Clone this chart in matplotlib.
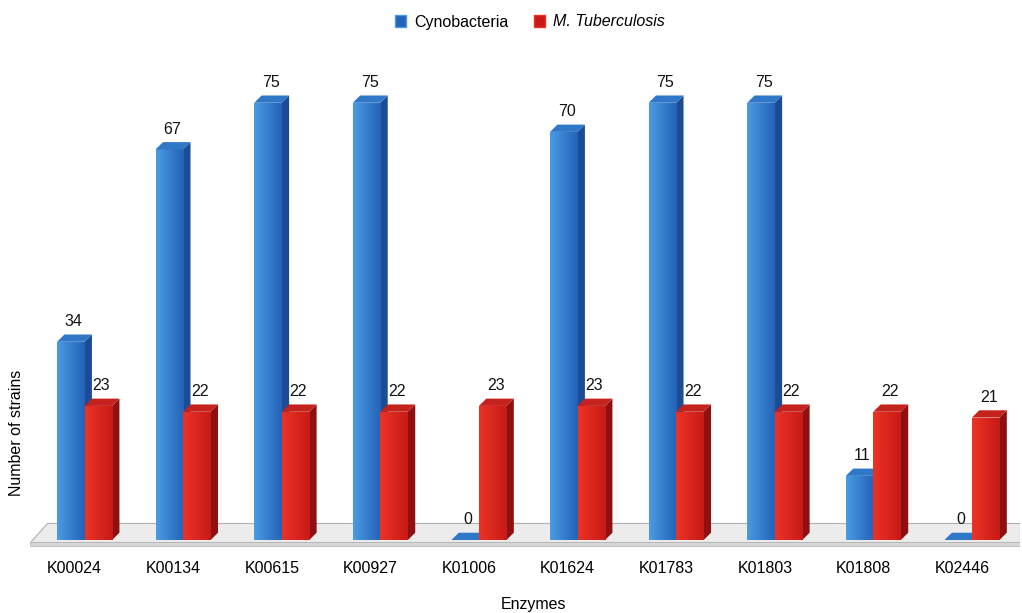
import numpy as np
import matplotlib.pyplot as plt
from matplotlib.patches import Polygon, Patch
from matplotlib.colors import LinearSegmentedColormap

plt.rcParams['font.family'] = ['Liberation Sans', 'DejaVu Sans']

enzymes = ['K00024', 'K00134', 'K00615', 'K00927', 'K01006',
           'K01624', 'K01783', 'K01803', 'K01808', 'K02446']
cyno = [34, 67, 75, 75, 0, 70, 75, 75, 11, 0]
mtb = [23, 22, 22, 22, 23, 23, 22, 22, 22, 21]

W = 0.279      # bar width (data units)
DX, DY = 0.075, 1.25   # fake 3d depth

blue = dict(light='#4a9be2', dark='#2463b8', side='#1b4c95', top='#2f78c8')
red = dict(light='#ec3327', dark='#c81a16', side='#8e1010', top='#c4221c')

fig = plt.figure(figsize=(10.22, 6.13), dpi=100)
ax = fig.add_axes([30 / 1022, 53 / 613, 990 / 1022, 540 / 613])
xlim = (-0.553, -0.553 + 990 / 98.6)
ylim = (-20 / 5.83, -20 / 5.83 + 540 / 5.83)

x = np.arange(len(enzymes))

# floor slab
xl, xr = xlim[0] + 0.005, xlim[1] - 0.005
ax.add_patch(Polygon([(xl, -0.3), (xr, -0.3), (xr + 0.0, 2.9), (xl + 0.17, 2.9)],
                     closed=True, facecolor='#ececec', edgecolor='#b0b0b0', lw=0.8, zorder=1))
ax.add_patch(Polygon([(xl, -0.3), (xr, -0.3), (xr, -1.0), (xl, -1.0)],
                     closed=True, facecolor='#d6d6d6', edgecolor='#b8b8b8', lw=0.6, zorder=1))


def draw_series(xs, vals, c, z):
    bars = ax.bar(xs, vals, width=W, color=c['dark'], lw=0, zorder=z + 0.5)
    cmap = LinearSegmentedColormap.from_list('g', [c['light'], c['dark']])
    grad = np.linspace(0, 1, 64).reshape(1, -1)
    for b, v in zip(bars, vals):
        x0 = b.get_x()
        x1 = x0 + b.get_width()
        # side face
        ax.add_patch(Polygon([(x1, 0), (x1 + DX, DY), (x1 + DX, v + DY), (x1, v)],
                             closed=True, facecolor=c['side'], lw=0, zorder=z))
        # top face
        ax.add_patch(Polygon([(x0, v), (x1, v), (x1 + DX, v + DY), (x0 + DX, v + DY)],
                             closed=True, facecolor=c['top'], lw=0, zorder=z + 0.6))
        if v > 0:
            im = ax.imshow(grad, extent=[x0, x1, 0, v], cmap=cmap, aspect='auto',
                           zorder=z + 0.55, interpolation='bilinear')
            im.set_clip_path(b)
        ax.text(x0 + W / 2 + DX * 0.4, v + DY + 0.9, str(v), ha='center', va='bottom',
                fontsize=11.5, color='#111111', zorder=10)


for i in range(len(enzymes)):
    draw_series([x[i] - W / 2], [cyno[i]], blue, 2 + i * 2)
    draw_series([x[i] + W / 2], [mtb[i]], red, 3 + i * 2)

ax.set_xlim(*xlim)
ax.set_ylim(*ylim)
ax.set_xticks(x - 0.1)
ax.set_xticklabels(enzymes, fontsize=11.5)
ax.tick_params(axis='x', length=0, pad=1)
ax.set_yticks([])
for s in ax.spines.values():
    s.set_visible(False)

fig.text(533 / 1022, 1 - 604 / 613, 'Enzymes', ha='center', va='center', fontsize=11.5)
fig.text(17 / 1022, 1 - 433 / 613, 'Number of strains', ha='center', va='center',
         rotation=90, fontsize=11.5)

handles = [Patch(facecolor=blue['dark'], edgecolor=blue['light']),
           Patch(facecolor=red['dark'], edgecolor=red['light'])]
leg = fig.legend(handles, ['Cynobacteria', 'M. Tuberculosis'], loc='center',
                 bbox_to_anchor=(530 / 1022, 1 - 22 / 613), ncol=2, frameon=False,
                 fontsize=11.5, handlelength=0.7, handleheight=0.7, handletextpad=0.5,
                 columnspacing=1.6)
leg.get_texts()[1].set_style('italic')

fig.savefig('out.png', dpi=100)
